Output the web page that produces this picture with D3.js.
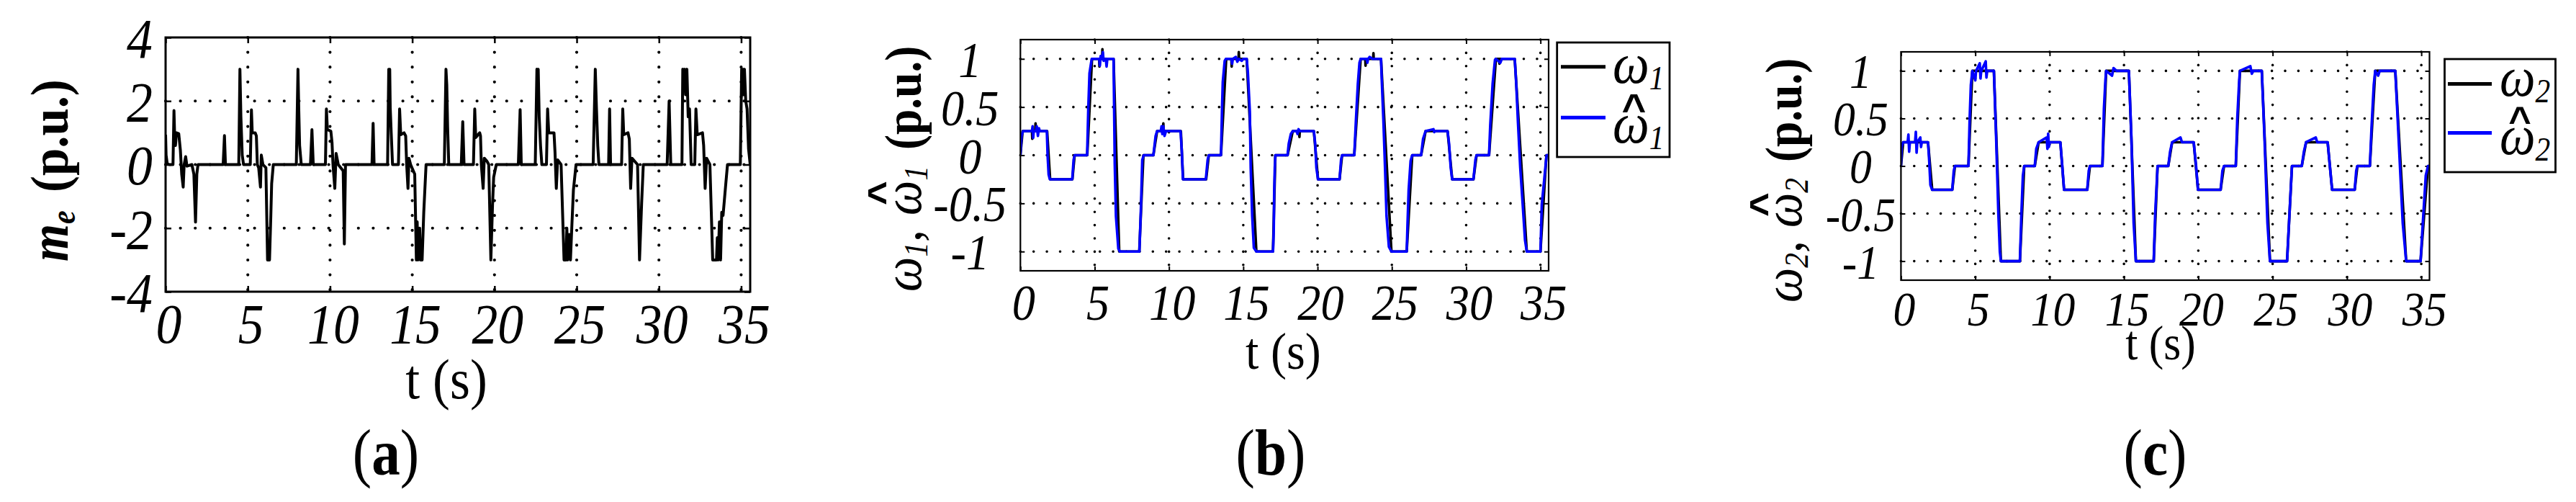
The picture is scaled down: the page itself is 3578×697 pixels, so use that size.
<!DOCTYPE html>
<html><head><meta charset="utf-8">
<script src="https://cdn.jsdelivr.net/npm/d3@7"></script>
<style>html,body{margin:0;padding:0;background:#fff;}svg{display:block;}</style>
</head><body>
<svg id="chart" width="3578" height="697"></svg>
<script>
// ---------------- DATA ----------------
const timeDomain = [0, 35.55];
const timeTicks = [0, 5, 10, 15, 20, 25, 30, 35];
const timeTickLabels = ["0", "5", "10", "15", "20", "25", "30", "35"];
const torqueTicks = [-4, -2, 0, 2, 4];
const torqueTickLabels = ["-4", "-2", "0", "2", "4"];
const speedTicks = [-1, -0.5, 0, 0.5, 1];
const speedTickLabels = ["-1", "-0.5", "0", "0.5", "1"];

// (a) electromagnetic torque m_e  [t (s), value (p.u.)]
const meSeries = [[0,0.94],[0.03,0.3],[0.1,0.03],[0.22,0],[0.45,0],[0.51,1.7],[0.55,0.94],[0.6,0.6],[0.66,1.0],[0.8,0.97],[0.9,0.45],[0.98,-0.3],[1.07,-0.71],[1.13,0],[1.22,0.25],[1.3,-0.05],[1.6,0],[1.72,-0.3],[1.82,-1.81],[1.9,-0.3],[1.97,0],[3.5,0],[3.58,0.91],[3.64,0],[4.45,0],[4.52,3.0],[4.58,1.5],[4.66,0.3],[4.74,0],[5.15,0],[5.22,1.72],[5.27,1.0],[5.45,1.0],[5.52,0.9],[5.58,0],[5.66,-0.1],[5.77,-0.71],[5.82,0.3],[5.92,0],[6.1,-0.1],[6.2,-3.0],[6.32,-3.0],[6.4,-1.6],[6.45,-0.6],[6.55,0],[7.95,0],[8.05,3.0],[8.1,1.7],[8.15,0.6],[8.25,0],[8.81,0],[8.9,1.1],[8.98,0],[9.72,0],[9.78,1.75],[9.84,1.1],[10.05,1.05],[10.12,0.7],[10.18,0],[10.29,-0.75],[10.37,0.35],[10.5,0],[10.8,-0.2],[10.87,-2.5],[10.94,0],[12.55,0],[12.62,1.3],[12.68,0],[13.5,0],[13.57,3.0],[13.63,3.0],[13.66,1.8],[13.72,1.0],[13.8,0],[14.16,0],[14.23,1.75],[14.3,0.94],[14.5,1.0],[14.6,0.9],[14.66,0],[14.74,-0.75],[14.8,0.2],[14.9,0],[15.15,-0.3],[15.25,-3.0],[15.3,-1.8],[15.35,-3.0],[15.45,-2.0],[15.5,-3.0],[15.6,-3.0],[15.7,-1.5],[15.84,0],[16.95,0],[17.05,3.0],[17.1,2.5],[17.15,1.2],[17.22,0],[17.98,0],[18.07,1.35],[18.15,0],[18.72,0],[18.8,1.75],[18.86,0.85],[19.1,1.0],[19.15,0.9],[19.2,0],[19.31,-0.75],[19.38,0.2],[19.55,0.1],[19.65,0],[19.78,-3.0],[19.88,-1.3],[19.95,-0.4],[20.11,0],[21.45,0],[21.56,1.73],[21.63,0],[22.48,0],[22.58,3.0],[22.62,2.2],[22.66,3.0],[22.72,1.5],[22.8,0.6],[22.88,0],[23.16,0],[23.23,1.75],[23.3,1.0],[23.62,1.0],[23.68,0.4],[23.76,-0.75],[23.84,0.15],[24.05,0],[24.23,-3.0],[24.35,-3.0],[24.4,-2.0],[24.45,-3.0],[24.55,-2.2],[24.62,-3.0],[24.7,-2.0],[24.8,-0.8],[24.96,0],[26.0,0],[26.13,3.0],[26.2,1.8],[26.28,0.6],[26.35,0],[26.94,0],[27.0,1.75],[27.06,0],[27.73,0],[27.8,1.75],[27.86,0.94],[28.12,1.0],[28.2,0.8],[28.28,-0.75],[28.36,0.2],[28.7,0],[28.82,-3.0],[28.95,-1.2],[29.05,0],[30.5,0],[30.62,2.0],[30.72,0],[31.4,0],[31.45,3.0],[31.5,2.4],[31.56,3.0],[31.62,2.2],[31.7,3.0],[31.78,1.5],[31.86,1.75],[31.96,0],[32.18,0],[32.25,1.75],[32.33,0.94],[32.65,1.0],[32.72,0.6],[32.81,-0.75],[32.9,0.2],[33.1,0],[33.27,-3.0],[33.5,-3.0],[33.55,-2.3],[33.6,-3.0],[33.68,-1.8],[33.75,-3.0],[33.82,-1.5],[33.9,-1.6],[34.05,-0.7],[34.17,0],[34.95,0],[35.03,3.0],[35.1,3.0],[35.15,2.2],[35.2,3.0],[35.28,2.0],[35.36,1.75],[35.45,0.5],[35.55,0]];

// (b) omega_1 reference (black) and estimate (blue)
const omega1Ref = [[0,0],[0.15,0.25],[0.78,0.25],[0.8,0.17],[0.82,0.25],[1.0,0.25],[1.02,0.33],[1.04,0.25],[1.8,0.25],[2.0,-0.25],[3.5,-0.25],[3.65,0],[4.5,0],[4.82,1],[5.3,1],[5.32,0.92],[5.34,1],[5.5,1],[5.52,1.1],[5.54,1],[6.27,1],[6.65,-1],[8.0,-1],[8.28,0],[8.95,0],[9.2,0.25],[9.6,0.25],[9.62,0.33],[9.64,0.25],[10.8,0.25],[10.95,-0.25],[12.5,-0.25],[12.68,0],[13.5,0],[13.85,1],[14.2,1],[14.22,0.92],[14.24,1],[14.68,1],[14.7,1.07],[14.72,1],[15.23,1],[15.88,-1],[17.0,-1],[17.16,0],[17.98,0],[18.33,0.25],[18.76,0.25],[18.78,0.19],[18.8,0.25],[19.75,0.25],[20.03,-0.25],[21.48,-0.25],[21.65,0],[22.47,0],[22.9,1],[23.21,1],[23.23,0.93],[23.25,1],[23.74,1],[23.76,1.06],[23.78,1],[24.27,1],[24.97,-1],[26.0,-1],[26.37,0],[26.97,0],[27.27,0.25],[28.75,0.25],[29.06,-0.25],[30.49,-0.25],[30.7,0],[31.54,0],[32.0,1],[32.22,1],[32.24,0.95],[32.26,1],[33.27,1],[34.08,-1],[35.0,-1],[35.4,0],[35.55,0]];
const omega1Est = [[0,0],[0.08,0.2],[0.18,0.25],[0.78,0.25],[0.82,0.3],[0.86,0.18],[0.9,0.25],[1.05,0.25],[1.1,0.3],[1.18,0.2],[1.25,0.28],[1.3,0.25],[1.78,0.25],[1.83,0.0],[1.9,-0.2],[1.98,-0.25],[3.49,-0.25],[3.58,-0.05],[3.65,0],[4.49,0],[4.57,0.49],[4.65,0.85],[4.8,1.0],[5.3,1.0],[5.35,0.93],[5.4,1.03],[5.5,1.0],[5.55,1.07],[5.6,0.98],[5.75,1.0],[5.8,0.92],[5.85,1.0],[6.27,1.0],[6.35,-0.09],[6.43,-0.63],[6.59,-0.97],[6.7,-1.0],[8.01,-1.0],[8.12,-0.51],[8.2,-0.05],[8.3,0],[8.95,0],[9.1,0.2],[9.2,0.25],[9.45,0.25],[9.5,0.3],[9.55,0.22],[9.62,0.3],[9.7,0.2],[9.8,0.25],[10.78,0.25],[10.86,0.05],[10.94,-0.25],[12.48,-0.25],[12.6,-0.05],[12.68,0],[13.5,0],[13.57,0.49],[13.62,0.76],[13.75,0.98],[13.83,1.0],[14.2,1.0],[14.25,0.95],[14.3,1.0],[14.5,1.02],[14.6,0.97],[14.7,1.0],[14.9,0.98],[15.0,1.0],[15.23,1.0],[15.31,0.86],[15.44,0.46],[15.5,-0.13],[15.6,-0.63],[15.71,-0.96],[15.88,-1.0],[17.0,-1.0],[17.05,-0.78],[17.08,-0.39],[17.12,-0.13],[17.16,0],[17.98,0],[18.06,0.12],[18.2,0.22],[18.33,0.25],[18.6,0.25],[18.65,0.22],[18.72,0.27],[18.8,0.25],[19.75,0.25],[19.84,0.12],[19.92,-0.13],[20.03,-0.25],[21.48,-0.25],[21.58,-0.05],[21.65,0],[22.47,0],[22.58,0.36],[22.71,0.74],[22.82,0.96],[22.9,1.0],[23.3,1.0],[23.35,0.96],[23.4,1.0],[23.5,1.02],[23.7,1.0],[24.27,1.0],[24.32,0.78],[24.43,0.36],[24.54,-0.13],[24.64,-0.63],[24.8,-0.95],[24.97,-1.0],[26.0,-1.0],[26.05,-0.73],[26.13,-0.36],[26.26,-0.06],[26.37,0],[26.97,0],[27.1,0.17],[27.27,0.25],[27.8,0.27],[27.85,0.24],[27.9,0.25],[28.75,0.25],[28.85,0.12],[28.96,-0.13],[29.06,-0.25],[30.49,-0.25],[30.62,-0.05],[30.7,0],[31.54,0],[31.62,0.31],[31.78,0.74],[31.94,0.99],[32.0,1.0],[32.3,0.96],[32.4,1.0],[33.27,1.0],[33.37,0.74],[33.48,0.36],[33.64,-0.13],[33.8,-0.5],[33.96,-0.88],[34.08,-1.0],[35.0,-1.0],[35.09,-0.51],[35.25,-0.26],[35.41,0],[35.55,0]];

// (c) omega_2 reference (black) and estimate (blue)
const omega2Ref = [[0,0],[0.15,0.25],[1.82,0.25],[2.1,-0.25],[3.45,-0.25],[3.63,0],[4.54,0],[4.8,1],[6.25,1],[6.72,-1],[8.0,-1],[8.29,0],[9.0,0],[9.26,0.25],[10.72,0.25],[10.97,-0.25],[12.53,-0.25],[12.71,0],[13.55,0],[13.8,1],[15.33,1],[15.8,-1],[17.0,-1],[17.26,0],[17.98,0],[18.24,0.25],[19.69,0.25],[19.98,-0.25],[21.5,-0.25],[21.73,0],[22.52,0],[22.8,1],[24.27,1],[24.82,-1],[25.97,-1],[26.3,0],[26.96,0],[27.25,0.25],[28.7,0.25],[29.0,-0.25],[30.52,-0.25],[30.7,0],[31.54,0],[31.9,1],[33.25,1],[33.98,-1],[34.95,-1],[35.45,0],[35.55,0]];
const omega2Est = [[0,0],[0.05,0.2],[0.15,0.25],[0.45,0.25],[0.5,0.33],[0.55,0.15],[0.6,0.25],[0.95,0.25],[1.0,0.36],[1.05,0.14],[1.1,0.25],[1.3,0.3],[1.35,0.2],[1.4,0.25],[1.82,0.25],[1.9,0.05],[1.98,-0.2],[2.1,-0.25],[3.45,-0.25],[3.55,-0.05],[3.63,0],[4.54,0],[4.62,0.5],[4.7,0.85],[4.8,1.0],[5.0,0.9],[5.05,1.0],[5.3,1.08],[5.35,0.92],[5.4,1.0],[5.7,1.1],[5.75,0.93],[5.8,1.0],[6.25,1.0],[6.4,0.3],[6.55,-0.5],[6.65,-0.9],[6.72,-1.0],[8.0,-1.0],[8.1,-0.5],[8.2,-0.1],[8.29,0],[9.0,0],[9.1,0.18],[9.26,0.25],[9.8,0.3],[9.85,0.18],[9.9,0.34],[9.95,0.2],[10.0,0.25],[10.72,0.25],[10.85,0],[10.97,-0.25],[12.53,-0.25],[12.63,-0.05],[12.71,0],[13.55,0],[13.65,0.6],[13.75,0.9],[13.8,1.0],[14.2,0.95],[14.3,1.03],[14.5,1.0],[15.33,1.0],[15.5,0.3],[15.65,-0.6],[15.8,-1.0],[17.0,-1.0],[17.1,-0.5],[17.26,0],[17.98,0],[18.1,0.15],[18.24,0.25],[18.8,0.3],[18.9,0.25],[19.69,0.25],[19.85,0],[19.98,-0.25],[21.5,-0.25],[21.62,-0.05],[21.73,0],[22.52,0],[22.62,0.5],[22.75,0.9],[22.8,1.0],[23.5,1.05],[23.6,0.97],[23.7,1.0],[24.27,1.0],[24.45,0.3],[24.65,-0.6],[24.82,-1.0],[25.97,-1.0],[26.1,-0.6],[26.3,0],[26.96,0],[27.1,0.15],[27.25,0.25],[27.9,0.3],[28.0,0.25],[28.7,0.25],[28.85,0],[29.0,-0.25],[30.52,-0.25],[30.62,-0.05],[30.7,0],[31.54,0],[31.65,0.4],[31.8,0.85],[31.9,1.0],[32.1,0.95],[32.2,1.0],[33.25,1.0],[33.5,0.2],[33.75,-0.6],[33.98,-1.0],[34.95,-1.0],[35.1,-0.6],[35.3,-0.1],[35.45,0],[35.55,0]];

// ---------------- DRAWING ----------------
const SERIF = "'Liberation Serif','Times New Roman',Times,serif";
const SANS = "'Liberation Sans',Arial,sans-serif";
const svg = d3.select("#chart");
svg.append("rect").attr("width", 3578).attr("height", 697).attr("fill", "#fff");

function txt(parent, o, spans) {
  const t = parent.append("text")
    .attr("transform", `translate(${o.x},${o.y}) rotate(${o.rot || 0}) scale(${o.sx || 1},1)`)
    .attr("text-anchor", o.anchor || "start")
    .attr("fill", "#000")
    .style("font-family", o.family || SERIF)
    .style("font-size", o.size + "px");
  spans.forEach(s => {
    const ts = t.append("tspan").text(s.t);
    if (s.size) ts.style("font-size", s.size + "px");
    ts.style("font-style", s.it ? "italic" : "normal");
    ts.style("font-weight", s.b ? "bold" : "normal");
    if (s.dy) ts.attr("dy", s.dy);
    if (s.dx) ts.attr("dx", s.dx);
  });
  return t;
}

function drawPanel(cfg, yDomain, yTicks, yTickLabels, series, id) {
  const g = svg.append("g");
  const x = d3.scaleLinear().domain(timeDomain).range([cfg.left, cfg.right]);
  const y = d3.scaleLinear().domain(yDomain).range([cfg.bottom, cfg.top]);

  // dotted grid
  const grid = g.append("g").attr("stroke", "#000").attr("stroke-width", cfg.dotW)
    .attr("stroke-linecap", "round").attr("stroke-dasharray", `0,${cfg.dotGap}`).attr("fill", "none");
  grid.selectAll("line.gv").data(timeTicks.filter(d => x(d) > cfg.left + 1 && x(d) < cfg.right - 1))
    .join("line").attr("class", "gv")
    .attr("x1", d => x(d)).attr("x2", d => x(d)).attr("y1", cfg.top).attr("y2", cfg.bottom);
  grid.selectAll("line.gh").data(yTicks.filter(d => y(d) > cfg.top + 1 && y(d) < cfg.bottom - 1))
    .join("line").attr("class", "gh")
    .attr("y1", d => y(d)).attr("y2", d => y(d)).attr("x1", cfg.left).attr("x2", cfg.right);

  // axes (ticks inward on all four sides)
  const styleAxis = sel => {
    sel.select(".domain").remove();
    sel.selectAll(".tick line").attr("stroke", "#000").attr("stroke-width", cfg.tickW);
  };
  const bx = g.append("g").attr("transform", `translate(0,${cfg.bottom})`)
    .call(d3.axisBottom(x).tickValues(timeTicks).tickSize(-cfg.tickLen)
      .tickFormat(d => timeTickLabels[timeTicks.indexOf(d)]))
    .call(styleAxis);
  bx.selectAll(".tick text").attr("x", 0).attr("y", cfg.xLabOff).attr("dy", 0)
    .attr("transform", `translate(4,0) scale(0.92,1)`)
    .attr("fill", "#000")
    .style("font-family", SERIF).style("font-style", "italic").style("font-size", cfg.tickSize + "px");
  g.append("g").attr("transform", `translate(0,${cfg.top})`)
    .call(d3.axisTop(x).tickValues(timeTicks).tickSize(-cfg.tickLen).tickFormat(() => ""))
    .call(styleAxis);
  const ly = g.append("g").attr("transform", `translate(${cfg.left},0)`)
    .call(d3.axisLeft(y).tickValues(yTicks).tickSize(-cfg.tickLen)
      .tickFormat(d => yTickLabels[yTicks.indexOf(d)]))
    .call(styleAxis);
  ly.selectAll(".tick text").attr("x", 0).attr("dy", "0.35em")
    .attr("text-anchor", cfg.yAnchor)
    .attr("transform", `translate(${cfg.yLabDx},0) scale(0.92,1)`)
    .attr("fill", "#000")
    .style("font-family", SERIF).style("font-style", "italic").style("font-size", cfg.tickSize + "px");
  g.append("g").attr("transform", `translate(${cfg.right},0)`)
    .call(d3.axisRight(y).tickValues(yTicks).tickSize(-cfg.tickLen).tickFormat(() => ""))
    .call(styleAxis);

  // data lines
  g.append("clipPath").attr("id", "clip" + id).append("rect")
    .attr("x", cfg.left).attr("y", cfg.top - 2)
    .attr("width", cfg.right - cfg.left).attr("height", cfg.bottom - cfg.top + 4);
  const line = d3.line().x(d => x(d[0])).y(d => y(d[1])).curve(d3.curveLinear);
  series.forEach(s => {
    g.append("path").datum(s.data).attr("d", line).attr("fill", "none")
      .attr("stroke", s.color).attr("stroke-width", s.width)
      .attr("stroke-linejoin", "round").attr("clip-path", `url(#clip${id})`);
  });

  // frame
  g.append("rect").attr("x", cfg.left).attr("y", cfg.top)
    .attr("width", cfg.right - cfg.left).attr("height", cfg.bottom - cfg.top)
    .attr("fill", "none").attr("stroke", "#000").attr("stroke-width", cfg.frameW);
  return g;
}

// ----- Panel (a)
const layoutA = {left: 230, right: 1042, top: 52, bottom: 405, frameW: 3, tickLen: 8, tickW: 2.5,
  dotW: 4.2, dotGap: 20.6, tickSize: 78, xLabOff: 71, yLabDx: -18, yAnchor: "end"};
drawPanel(layoutA, [-4, 4], torqueTicks, torqueTickLabels,
  [{data: meSeries, color: "#000", width: 4}], "a");
txt(svg, {x: 94, y: 363, rot: -90, size: 76, sx: 0.88}, [
  {t: "m", it: true, b: true}, {t: "e", it: true, b: true, size: 48, dy: 10}]);
txt(svg, {x: 94, y: 267, rot: -90, size: 74, sx: 0.93}, [{t: "(p.u.)", b: true}]);
txt(svg, {x: 620, y: 553, size: 78, sx: 0.92, anchor: "middle"}, [{t: "t (s)"}]);
txt(svg, {x: 536, y: 659, size: 90, sx: 0.88, anchor: "middle"}, [{t: "("}, {t: "a", b: true}, {t: ")"}]);

// ----- Panel (b)
const layoutB = {left: 1417.3, right: 2151, top: 55, bottom: 376, frameW: 2.2, tickLen: 6, tickW: 2,
  dotW: 3.6, dotGap: 18.4, tickSize: 70, xLabOff: 68, yLabDx: -70, yAnchor: "middle"};
drawPanel(layoutB, [-1.2, 1.2], speedTicks, speedTickLabels,
  [{data: omega1Ref, color: "#000", width: 3.6}, {data: omega1Est, color: "#0000ff", width: 3.6}], "b");
txt(svg, {x: 1279, y: 405, rot: -90, size: 76, sx: 0.9}, [
  {t: "ω", it: true}, {t: "1", it: true, size: 46, dy: 9}, {t: ",", dy: -9}]);
txt(svg, {x: 1279, y: 299, rot: -90, size: 76, sx: 0.9}, [
  {t: "ω", it: true}, {t: "1", it: true, size: 46, dy: 9}]);
txt(svg, {x: 1245, y: 268, rot: -90, size: 58, anchor: "middle", family: SANS}, [{t: "^", b: true}]);
txt(svg, {x: 1279, y: 208, rot: -90, size: 72, sx: 0.88}, [{t: "(p.u.)", b: true}]);
txt(svg, {x: 1782.5, y: 512, size: 72, sx: 0.92, anchor: "middle"}, [{t: "t (s)"}]);
txt(svg, {x: 1765, y: 659, size: 90, sx: 0.88, anchor: "middle"}, [{t: "("}, {t: "b", b: true}, {t: ")"}]);
// legend (b)
const legB = svg.append("g");
legB.append("rect").attr("x", 2162.7).attr("y", 59).attr("width", 156.3).attr("height", 159)
  .attr("fill", "#fff").attr("stroke", "#000").attr("stroke-width", 2.8);
legB.append("line").attr("x1", 2168).attr("x2", 2230).attr("y1", 92.7).attr("y2", 92.7)
  .attr("stroke", "#000").attr("stroke-width", 5);
legB.append("line").attr("x1", 2168).attr("x2", 2230).attr("y1", 163.3).attr("y2", 163.3)
  .attr("stroke", "#0000ff").attr("stroke-width", 5);
txt(legB, {x: 2240, y: 115, size: 80, sx: 0.9}, [{t: "ω", it: true}, {t: "1", it: true, size: 46, dy: 9}]);
txt(legB, {x: 2240, y: 198, size: 80, sx: 0.9}, [{t: "ω", it: true}, {t: "1", it: true, size: 46, dy: 9}]);
txt(legB, {x: 2269.5, y: 170, size: 58, anchor: "middle", family: SANS}, [{t: "^", b: true}]);

// ----- Panel (c)
const layoutC = {left: 2640.4, right: 3374.5, top: 72, bottom: 389, frameW: 2.2, tickLen: 6, tickW: 2,
  dotW: 3.6, dotGap: 18.4, tickSize: 67, xLabOff: 63, yLabDx: -56, yAnchor: "middle"};
drawPanel(layoutC, [-1.2, 1.2], speedTicks, speedTickLabels,
  [{data: omega2Ref, color: "#000", width: 3.6}, {data: omega2Est, color: "#0000ff", width: 3.6}], "c");
txt(svg, {x: 2502, y: 420, rot: -90, size: 76, sx: 0.9}, [
  {t: "ω", it: true}, {t: "2", it: true, size: 46, dy: 9}, {t: ",", dy: -9}]);
txt(svg, {x: 2502, y: 316, rot: -90, size: 76, sx: 0.9}, [
  {t: "ω", it: true}, {t: "2", it: true, size: 46, dy: 9}]);
txt(svg, {x: 2470, y: 284, rot: -90, size: 58, anchor: "middle", family: SANS}, [{t: "^", b: true}]);
txt(svg, {x: 2502, y: 225, rot: -90, size: 72, sx: 0.88}, [{t: "(p.u.)", b: true}]);
txt(svg, {x: 3001, y: 499, size: 67, sx: 0.92, anchor: "middle"}, [{t: "t (s)"}]);
txt(svg, {x: 2993.5, y: 659, size: 90, sx: 0.88, anchor: "middle"}, [{t: "("}, {t: "c", b: true}, {t: ")"}]);
// legend (c)
const legC = svg.append("g");
legC.append("rect").attr("x", 3395.5).attr("y", 82).attr("width", 154).attr("height", 157)
  .attr("fill", "#fff").attr("stroke", "#000").attr("stroke-width", 2.8);
legC.append("line").attr("x1", 3400).attr("x2", 3461).attr("y1", 116.4).attr("y2", 116.4)
  .attr("stroke", "#000").attr("stroke-width", 5);
legC.append("line").attr("x1", 3400).attr("x2", 3461).attr("y1", 184.4).attr("y2", 184.4)
  .attr("stroke", "#0000ff").attr("stroke-width", 5);
txt(legC, {x: 3472, y: 133, size: 78, sx: 0.9}, [{t: "ω", it: true}, {t: "2", it: true, size: 46, dy: 9}]);
txt(legC, {x: 3472, y: 214, size: 78, sx: 0.9}, [{t: "ω", it: true}, {t: "2", it: true, size: 46, dy: 9}]);
txt(legC, {x: 3500, y: 186, size: 54, anchor: "middle", family: SANS}, [{t: "^", b: true}]);
</script>
</body></html>
